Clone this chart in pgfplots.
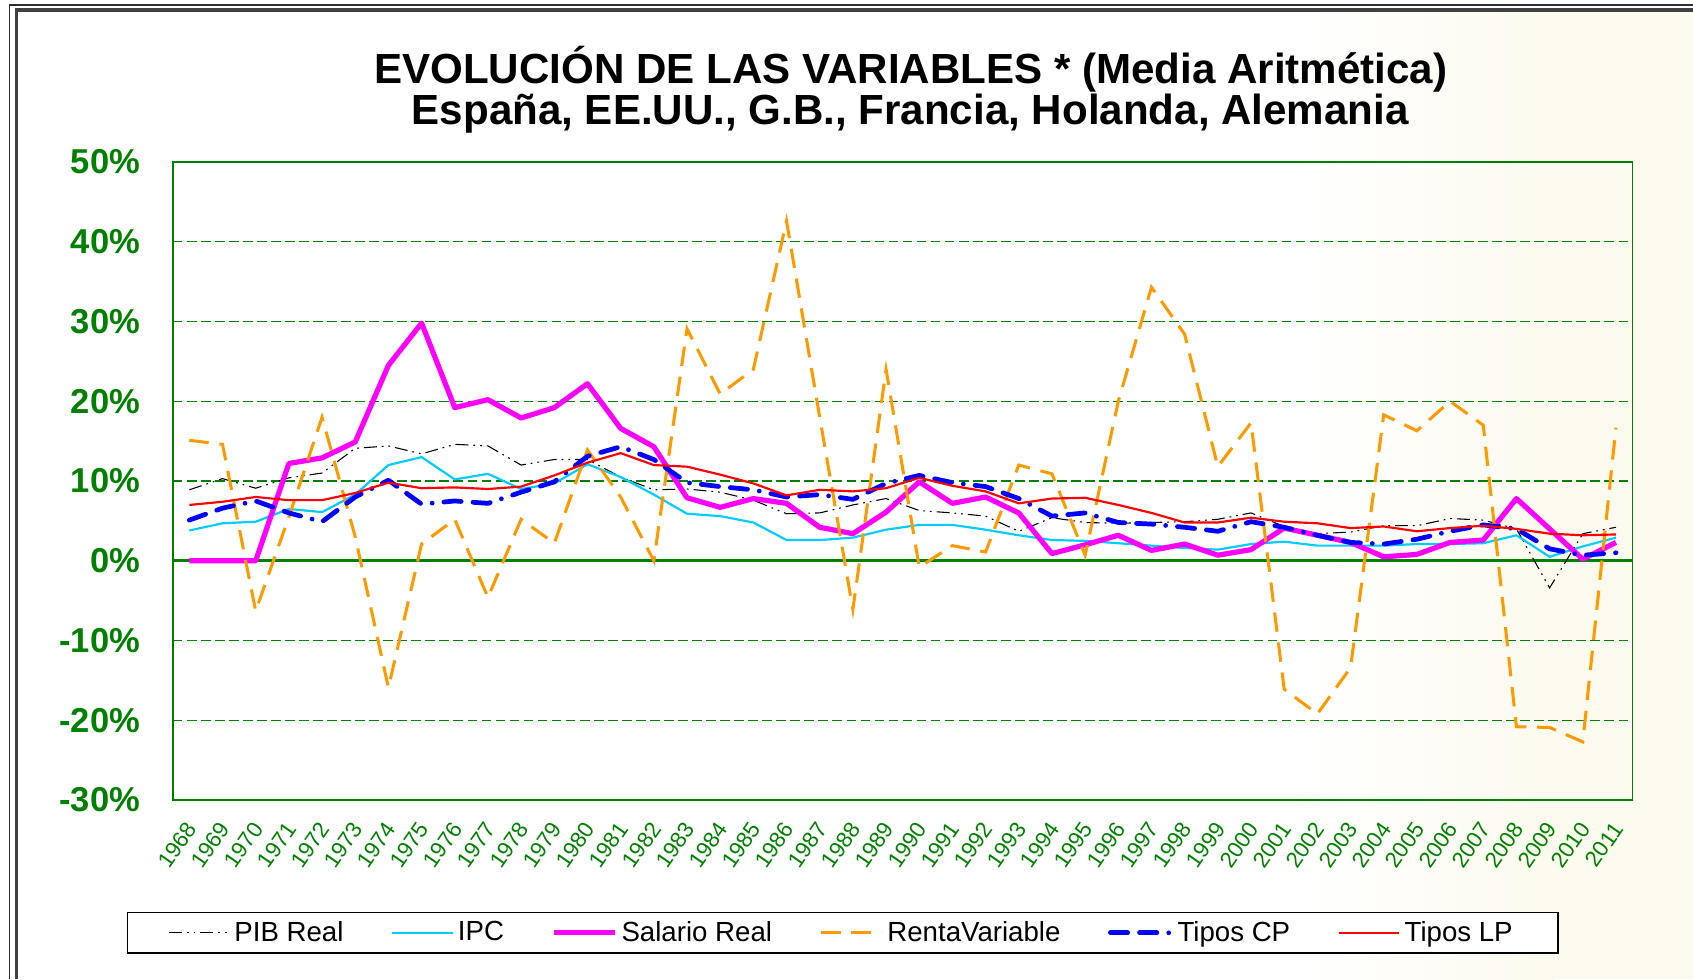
\documentclass[border=0pt]{standalone}
\usepackage{pgfplots}
\usepackage{pgfplotstable}
\pgfplotsset{compat=1.18}
\usepackage{fontspec}
\setmainfont{Liberation Sans}
\definecolor{xlgreen}{RGB}{0,128,0}
\definecolor{xlcyan}{RGB}{0,204,255}
\definecolor{xlmag}{RGB}{255,0,255}
\definecolor{xlorange}{RGB}{255,153,0}
\definecolor{xlblue}{RGB}{0,0,255}
\definecolor{xlred}{RGB}{255,0,0}
\definecolor{cream}{RGB}{252,250,238}
\definecolor{framegray}{RGB}{64,64,64}

\pgfplotstableread{
year pib ipc sal renta cp lp
1968 8.9 3.8 0 15.1 5.1 7.0
1969 10.3 4.7 0 14.6 6.6 7.4
1970 9.1 4.9 0 -6.3 7.5 8.0
1971 10.4 6.5 12.2 5.5 6.0 7.6
1972 11.0 6.1 12.9 18.0 4.9 7.6
1973 14.1 8.3 14.9 3.0 8.0 8.5
1974 14.4 12.0 24.5 -15.9 10.1 9.8
1975 13.4 13.0 29.8 2.1 7.1 9.1
1976 14.6 10.2 19.2 5.2 7.5 9.2
1977 14.4 10.9 20.2 -4.6 7.2 9.0
1978 12.0 9.0 17.9 5.2 8.6 9.3
1979 12.7 9.7 19.2 2.2 9.9 10.7
1980 12.7 12.1 22.2 13.9 13.1 12.3
1981 10.5 10.5 16.6 8.0 14.3 13.5
1982 8.9 8.3 14.3 0.0 12.7 12.0
1983 9.0 5.9 7.9 29.1 9.8 11.8
1984 8.6 5.6 6.7 20.9 9.3 10.8
1985 7.6 4.8 7.8 24.0 8.9 9.7
1986 5.9 2.6 7.2 42.6 8.0 8.2
1987 6.0 2.6 4.2 18.0 8.3 8.9
1988 7.0 2.9 3.4 -6.1 7.7 8.7
1989 7.8 3.9 6.1 24.0 9.7 9.1
1990 6.3 4.5 9.9 -0.8 10.7 10.4
1991 6.0 4.5 7.2 1.9 9.8 9.4
1992 5.6 3.9 8.0 1.1 9.3 8.7
1993 3.7 3.2 6.0 12.0 7.8 7.2
1994 5.4 2.6 0.9 10.9 5.6 7.8
1995 4.8 2.5 2.0 0.7 6.0 7.9
1996 4.7 2.2 3.2 20.0 4.8 7.0
1997 4.8 1.9 1.3 34.3 4.6 6.0
1998 4.9 1.6 2.1 28.4 4.2 4.8
1999 5.2 1.4 0.7 11.8 3.7 4.8
2000 6.0 2.1 1.4 17.3 4.9 5.4
2001 4.3 2.4 4.1 -16.1 4.2 4.9
2002 3.4 1.9 3.2 -19.2 3.2 4.7
2003 3.6 1.9 2.3 -13.4 2.3 4.1
2004 4.4 1.9 0.5 18.3 2.1 4.3
2005 4.4 2.1 0.8 16.3 2.7 3.7
2006 5.3 2.1 2.3 20.0 3.7 4.1
2007 5.1 2.2 2.6 17.0 4.5 4.4
2008 4.0 3.2 7.8 -20.8 4.0 4.0
2009 -3.4 0.5 4.0 -20.9 1.5 3.4
2010 3.4 1.8 0.2 -22.7 0.7 3.2
2011 4.2 2.9 2.3 16.7 1.0 3.3
}\datatable

\begin{document}
\begin{tikzpicture}
\useasboundingbox (0,0) rectangle (784pt,453.5pt);
\fill[white] (0,0) rectangle (784pt,453.5pt);
\shade[left color=white,right color=cream] (600pt,0) rectangle (720pt,449pt);
\fill[cream] (720pt,0) rectangle (784pt,449pt);
\draw[framegray!70!black, line width=0.6pt] (4.55pt,0) -- (4.55pt,451.2pt) -- (784pt,451.2pt);
\draw[framegray, line width=1.5pt] (7.5pt,0) -- (7.5pt,448.85pt) -- (784pt,448.85pt);
\node[font=\fontsize{19.5}{19.5}\selectfont\bfseries, anchor=base, inner sep=0pt] at (421.75pt,415pt) {EVOLUCIÓN DE LAS VARIABLES * (Media Aritmética)};
\node[font=\fontsize{19.5}{19.5}\selectfont\bfseries, anchor=base, inner sep=0pt] at (421.5pt,396pt) {España, EE.UU., G.B., Francia, Holanda, Alemania};
\begin{axis}[
  at={(80pt,83pt)}, anchor=south west,
  scale only axis, width=676pt, height=295.5pt,
  xmin=1967.5, xmax=2011.5, ymin=-30, ymax=50,
  xtick={1968,...,2011},
  ytick={-30,-20,...,50},
  yticklabels={-30\%,-20\%,-10\%,0\%,10\%,20\%,30\%,40\%,50\%},
  /pgf/number format/assume math mode=true,
  /pgf/number format/1000 sep={},
  xticklabel style={rotate=55, anchor=east, inner sep=0pt, xshift=2pt, font=\fontsize{10.3}{10.3}\selectfont, text=xlgreen},
  xticklabel shift=9pt,
  yticklabel style={anchor=east, inner sep=0pt, font=\fontsize{16}{16}\selectfont\bfseries, text=xlgreen},
  yticklabel shift=11pt,
  tick style={draw=none},
  major tick length=4pt,
  tick align=outside,
  tick pos=left,
  ymajorgrids,
  grid style={xlgreen, line width=0.5pt, dash pattern=on 4.5pt off 2pt},
  axis line style={xlgreen, line width=0.6pt},
  legend columns=6,
  legend style={at={(0.459,-0.208)}, anchor=center, draw=black, line width=0.6pt,
    font=\fontsize{12.8}{12.8}\selectfont, inner xsep=19pt, inner ysep=2pt,
    /tikz/every even column/.append style={column sep=20pt}},
  legend image code/.code={\draw[#1] (0pt,0pt) -- (28pt,0pt);},
  legend cell align=left,
]
\draw[xlgreen, line width=1.4pt] (axis cs:1967.5,0) -- (axis cs:2011.5,0);
\addplot[black, mark=none, line width=0.5pt, dash pattern=on 6pt off 2.3pt on 0.8pt off 2.3pt on 0.8pt off 2.3pt] table[x=year,y=pib]{\datatable};
\addlegendentry{PIB Real}
\addplot[xlcyan, mark=none, line width=1pt, line join=round] table[x=year,y=ipc]{\datatable};
\addlegendentry{IPC}
\addplot[xlmag, mark=none, line width=2.4pt, line join=round] table[x=year,y=sal]{\datatable};
\addlegendentry{Salario Real}
\addplot[xlorange, mark=none, line width=1.4pt, dash pattern=on 9pt off 5pt] table[x=year,y=renta]{\datatable};
\addlegendentry{RentaVariable}
\addplot[xlblue, mark=none, line width=2.2pt, line cap=round, line join=round, dash pattern=on 8pt off 5.5pt on 8pt off 5.5pt on 0pt off 5.5pt] table[x=year,y=cp]{\datatable};
\addlegendentry{Tipos CP}
\addplot[xlred, mark=none, line width=1pt, line join=round] table[x=year,y=lp]{\datatable};
\addlegendentry{Tipos LP}
\draw[xlgreen, line width=1.6pt] (rel axis cs:0,0) -- (rel axis cs:0,1);
\pgfplotsinvokeforeach{-30,-20,-10,0,10,20,30,40,50}{
  \draw[xlgreen, line width=1.2pt] (axis cs:1967.5,#1) -- ++(-4pt,0pt);
}
\end{axis}
\end{tikzpicture}
\end{document}
